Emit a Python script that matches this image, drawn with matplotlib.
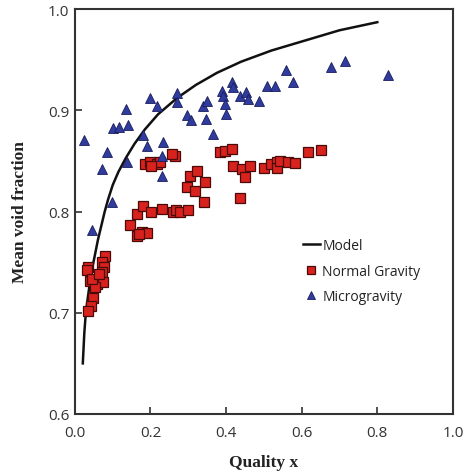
import matplotlib
matplotlib.use("Agg")
import matplotlib.pyplot as plt

# Model curve
model_x = [0.021, 0.025, 0.029, 0.035, 0.040, 0.046, 0.053, 0.061, 0.070, 0.079,
           0.088, 0.100, 0.115, 0.135, 0.158, 0.185, 0.220, 0.270, 0.320, 0.376,
           0.440, 0.520, 0.610, 0.700, 0.800]
model_y = [0.650, 0.680, 0.700, 0.717, 0.730, 0.744, 0.757, 0.772, 0.786, 0.800,
           0.812, 0.826, 0.839, 0.853, 0.867, 0.881, 0.896, 0.912, 0.925, 0.937,
           0.948, 0.959, 0.969, 0.979, 0.987]

# Normal gravity (squares)
normal_x = [0.079, 0.071, 0.076, 0.034, 0.031, 0.071, 0.040, 0.061, 0.058, 0.074,
            0.053, 0.048, 0.042, 0.034, 0.045, 0.064,
            0.145, 0.164, 0.177, 0.190, 0.170, 0.164, 0.180, 0.201, 0.230, 0.259,
            0.268, 0.278, 0.299, 0.185, 0.198, 0.217, 0.225, 0.264, 0.256, 0.304,
            0.323, 0.344, 0.296, 0.317, 0.341, 0.437, 0.383, 0.397, 0.415, 0.418,
            0.442, 0.463, 0.450, 0.500, 0.520, 0.534, 0.534, 0.542, 0.563, 0.582,
            0.616, 0.651, 0.201]
normal_y = [0.756, 0.750, 0.745, 0.745, 0.742, 0.740, 0.731, 0.731, 0.728, 0.730,
            0.725, 0.715, 0.707, 0.702, 0.733, 0.738,
            0.787, 0.776, 0.780, 0.779, 0.778, 0.798, 0.805, 0.800, 0.802, 0.800,
            0.801, 0.800, 0.801, 0.847, 0.849, 0.847, 0.849, 0.855, 0.857, 0.835,
            0.840, 0.829, 0.824, 0.820, 0.809, 0.813, 0.859, 0.860, 0.862, 0.845,
            0.842, 0.845, 0.834, 0.843, 0.847, 0.849, 0.843, 0.850, 0.849, 0.848,
            0.859, 0.861, 0.845]

# Microgravity (triangles)
micro_x = [0.024, 0.085, 0.071, 0.135, 0.140, 0.100, 0.116, 0.137, 0.180, 0.190,
           0.198, 0.217, 0.233, 0.230, 0.230, 0.270, 0.270, 0.296, 0.307, 0.339,
           0.349, 0.347, 0.366, 0.389, 0.392, 0.396, 0.400, 0.415, 0.418, 0.437,
           0.452, 0.458, 0.487, 0.508, 0.529, 0.558, 0.577, 0.677, 0.714, 0.828,
           0.098, 0.045]
micro_y = [0.871, 0.859, 0.842, 0.901, 0.885, 0.882, 0.883, 0.849, 0.876, 0.865,
           0.912, 0.904, 0.869, 0.855, 0.835, 0.917, 0.908, 0.895, 0.890, 0.904,
           0.909, 0.891, 0.877, 0.919, 0.914, 0.906, 0.896, 0.928, 0.923, 0.914,
           0.918, 0.911, 0.909, 0.924, 0.924, 0.940, 0.928, 0.943, 0.949, 0.935,
           0.809, 0.782]

fig = plt.figure(figsize=(4.65, 4.77), dpi=100)
ax = fig.add_axes([0.161, 0.130, 0.813, 0.849])

ax.plot(model_x, model_y, color="#111111", lw=1.8, label="Model", zorder=2,
        solid_joinstyle="round")
ax.plot(normal_x, normal_y, ls="none", marker="s", ms=6.5, mfc="#d8221e",
        mec="#4a0b08", mew=0.9, label="Normal Gravity", zorder=3)
ax.plot(micro_x, micro_y, ls="none", marker="^", ms=7.5, mfc="#2f3c9e",
        mec="#1a1d5c", mew=0.6, label="Microgravity", zorder=4)

ax.set_xlim(0, 1.0)
ax.set_ylim(0.6, 1.0)
ax.set_xticks([0.0, 0.2, 0.4, 0.6, 0.8, 1.0])
ax.set_yticks([0.6, 0.7, 0.8, 0.9, 1.0])
ax.set_xticklabels(["0.0", "0.2", "0.4", "0.6", "0.8", "1.0"])
ax.set_yticklabels(["0.6", "0.7", "0.8", "0.9", "1.0"])
ax.tick_params(direction="in", length=5, width=1.2, color="#333333",
               labelsize=11, labelcolor="#333333")
ax.tick_params(axis="x", pad=8)
ax.tick_params(axis="y", pad=4)
for lab in ax.get_xticklabels() + ax.get_yticklabels():
    lab.set_family("Open Sans")

for s in ax.spines.values():
    s.set_linewidth(1.5)
    s.set_color("#333333")

ax.set_xlabel("Quality x", family="Liberation Serif", fontweight="bold",
              fontsize=12.5, color="#222222", labelpad=10)
ax.set_ylabel("Mean void fraction", family="Liberation Serif", fontweight="bold",
              fontsize=12.5, color="#222222", labelpad=14)

leg = ax.legend(loc="upper left", bbox_to_anchor=(0.57, 0.465), frameon=False,
                handlelength=1.2, handletextpad=0.2, labelspacing=0.75,
                prop={"family": "Open Sans", "size": 10}, markerscale=0.8)
for t in leg.get_texts():
    t.set_color("#222222")

fig.savefig("out.png", dpi=100)
